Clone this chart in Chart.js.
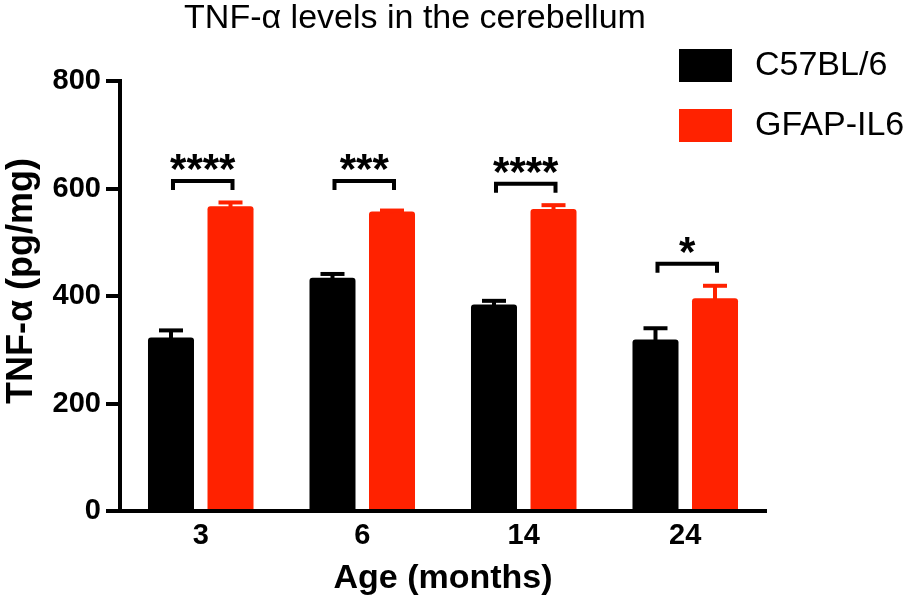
<!DOCTYPE html>
<html><head><meta charset="utf-8">
<script src="https://cdn.jsdelivr.net/npm/chart.js@4.4.1/dist/chart.umd.min.js"></script>
<style>html,body{margin:0;padding:0;background:#fff;overflow:hidden}</style>
</head><body>
<canvas id="c" width="910" height="603"></canvas>
<script>
const categories = ['3', '6', '14', '24'];
const c57Values = [323, 434, 384, 319];
const c57Errors = [13, 7, 7, 21];
const gfapValues = [567, 557, 562, 396];
const gfapErrors = [7, 2, 7, 23];
const sigLabels = ['****', '***', '****', '*'];
const sigLevels = [614, 614, 609, 460];
const yTicks = [0, 200, 400, 600, 800];
const seriesNames = ['C57BL/6', 'GFAP-IL6'];
const seriesColors = ['#000000', '#ff2200'];
const chartTitle = 'TNF-α levels in the cerebellum';
const yTitle = 'TNF-α (pg/mg)';
const xTitle = 'Age (months)';

const FAM = '"Liberation Sans", Arial, Helvetica, sans-serif';

const annot = {
  id: 'annot',
  afterDatasetsDraw(chart) {
    const ctx = chart.ctx;
    const y = chart.scales.y;
    const errs = [c57Errors, gfapErrors];
    ctx.save();
    ctx.lineCap = 'butt';
    chart.data.datasets.forEach((ds, di) => {
      const meta = chart.getDatasetMeta(di);
      meta.data.forEach((bar, i) => {
        const capY = y.getPixelForValue(ds.data[i] + errs[di][i]);
        ctx.strokeStyle = seriesColors[di];
        ctx.lineWidth = 4;
        ctx.beginPath(); ctx.moveTo(bar.x, bar.y + 2); ctx.lineTo(bar.x, capY); ctx.stroke();
        ctx.beginPath(); ctx.moveTo(bar.x - 12, capY); ctx.lineTo(bar.x + 12, capY); ctx.stroke();
      });
    });
    const m0 = chart.getDatasetMeta(0), m1 = chart.getDatasetMeta(1);
    ctx.strokeStyle = '#000'; ctx.fillStyle = '#000'; ctx.lineWidth = 4;
    categories.forEach((c, i) => {
      const x0 = m0.data[i].x + 2, x1 = m1.data[i].x + 2;
      const by = y.getPixelForValue(sigLevels[i]);
      ctx.beginPath();
      ctx.moveTo(x0, by + 9); ctx.lineTo(x0, by); ctx.lineTo(x1, by); ctx.lineTo(x1, by + 9);
      ctx.stroke();
      ctx.font = 'bold 42px ' + FAM;
      ctx.textAlign = 'center'; ctx.textBaseline = 'alphabetic';
      const mt = ctx.measureText(sigLabels[i]);
      ctx.fillText(sigLabels[i], (x0 + x1) / 2, by - 2 - 9 - mt.actualBoundingBoxDescent);
    });
    ctx.restore();
  },
  afterDraw(chart) {
    const ctx = chart.ctx;
    ctx.save();
    ctx.fillStyle = '#000';
    // title
    ctx.font = '34px ' + FAM;
    ctx.textAlign = 'center'; ctx.textBaseline = 'alphabetic';
    ctx.fillText(chartTitle, 415, 28);
    // y title
    ctx.save();
    ctx.translate(32, 281);
    ctx.rotate(-Math.PI / 2);
    ctx.font = 'bold 36px ' + FAM;
    ctx.fillText(yTitle, 0, 0);
    ctx.restore();
    // legend
    ctx.font = '34px ' + FAM;
    ctx.textAlign = 'left'; ctx.textBaseline = 'middle';
    seriesNames.forEach((n, i) => {
      const top = 49 + i * 60;
      ctx.fillStyle = seriesColors[i];
      ctx.fillRect(679, top, 53, 33);
      ctx.fillStyle = '#000';
      ctx.fillText(n, 755, top + 17);
    });
    ctx.restore();
  }
};

new Chart(document.getElementById('c'), {
  type: 'bar',
  data: {
    labels: categories,
    datasets: [
      { label: seriesNames[0], data: c57Values, backgroundColor: seriesColors[0] },
      { label: seriesNames[1], data: gfapValues, backgroundColor: seriesColors[1] }
    ]
  },
  options: {
    responsive: false,
    animation: false,
    devicePixelRatio: 1,
    categoryPercentage: 0.737,
    barPercentage: 0.773,
    borderRadius: 3,
    layout: { padding: { top: 81, right: 144, bottom: 0, left: 0 } },
    plugins: { legend: { display: false }, title: { display: false }, tooltip: { enabled: false } },
    scales: {
      x: {
        grid: { display: false, drawTicks: false },
        border: { display: true, color: '#000', width: 4 },
        ticks: { color: '#000', font: { family: FAM, size: 29, weight: 'bold' }, padding: 8 },
        title: { display: true, text: xTitle, color: '#000', font: { family: FAM, size: 34, weight: 'bold' }, padding: { top: 0, bottom: 4 } },
        afterFit(s) { s.height = 92; }
      },
      y: {
        min: 0, max: 800,
        afterBuildTicks(s) { s.ticks = yTicks.map(v => ({ value: v })); },
        grid: { display: true, drawOnChartArea: false, drawTicks: true, tickLength: 14, lineWidth: 4, color: '#000' },
        border: { display: true, color: '#000', width: 4 },
        ticks: { color: '#000', font: { family: FAM, size: 29, weight: 'bold' }, padding: 5 },
        afterFit(s) { s.width = 120; }
      }
    }
  },
  plugins: [annot]
});
</script>
</body></html>
